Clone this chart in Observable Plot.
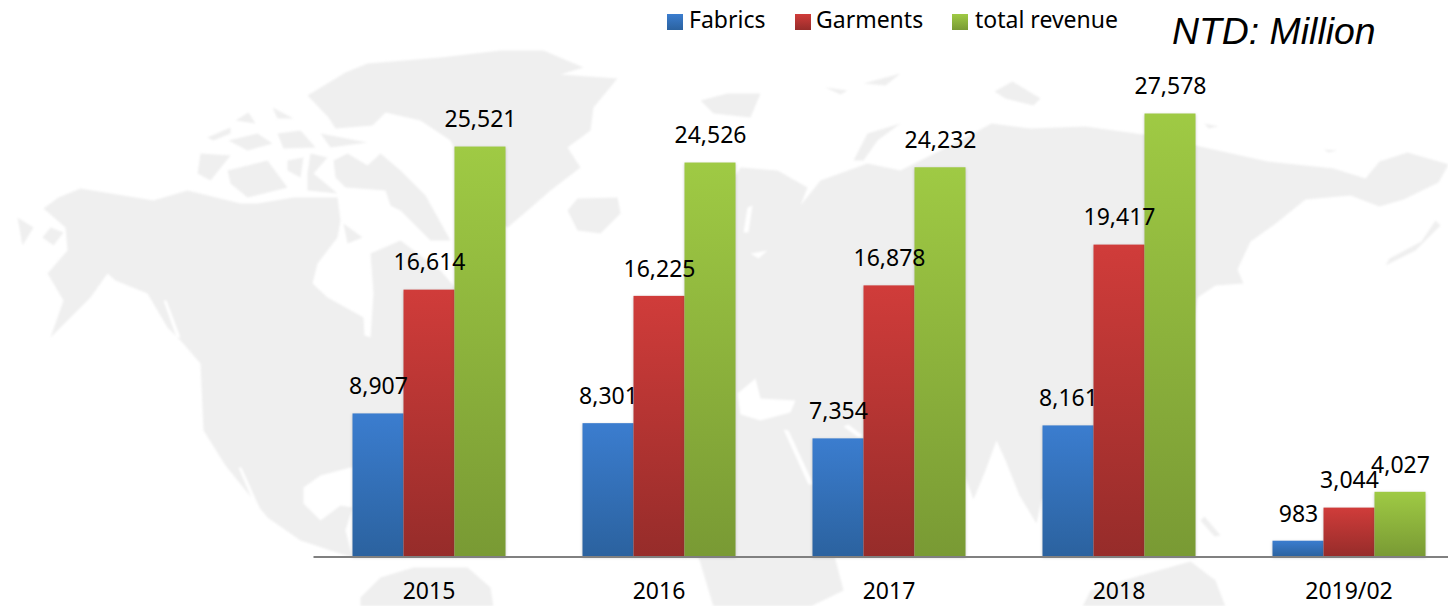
<!DOCTYPE html>
<html>
<head>
<meta charset="utf-8">
<script src="https://cdn.jsdelivr.net/npm/d3@7"></script>
<script src="https://cdn.jsdelivr.net/npm/@observablehq/plot@0.6"></script>
<style>
  html, body { margin: 0; padding: 0; background: #fff; width: 1448px; height: 606px; overflow: hidden; }
  #stage { position: relative; width: 1448px; height: 606px; overflow: hidden; }
  #map, #chart, #base { position: absolute; left: 0; top: 0; }
  #map svg { filter: blur(1.1px); display: block; }
  #chart svg, #base svg { display: block; background: transparent; overflow: hidden; }
  #chart g[aria-label="bar"] rect { filter: drop-shadow(0 1px 1.5px rgba(60,60,60,.28)); }
  .legend { position: absolute; font-family: "Noto Sans", sans-serif; font-size: 23px; color: #000; line-height: 28px; white-space: nowrap; }
  .swatch { position: absolute; width: 15.5px; height: 16px; }
  #unit { position: absolute; left: 1172px; top: 10px; font: italic 37.4px "Liberation Sans", Arial, sans-serif; color: #000; white-space: nowrap; }
</style>
</head>
<body>
<div id="stage"><div id="map"></div><div id="chart"></div><div id="base"></div></div>
<script>
// Chart values
const years = ["2015", "2016", "2017", "2018", "2019/02"];
const seriesNames = ["Fabrics", "Garments", "total revenue"];
const fabrics = [8907, 8301, 7354, 8161, 983];
const garments = [16614, 16225, 16878, 19417, 3044];
const totalRevenue = [25521, 24526, 24232, 27578, 4027];
const unitLabel = "NTD: Million";

// Faint world map behind the bars: outlines
const land = [
  [[43,208],[58,197],[80,188],[153,200],[187,190],[240,203],[257,203],[293,197],[337,197],[340,220],[337,237],[317,263],[312,283],[327,297],[363,317],[364,335],[370,337],[373,293],[370,253],[400,240],[440,270],[500,340],[460,370],[430,400],[400,445],[375,465],[350,467],[320,475],[303,487],[303,503],[320,520],[340,505],[352,507],[345,530],[352,557],[330,550],[300,540],[267,517],[225,465],[203,430],[200,363],[180,340],[167,327],[147,293],[115,280],[107,273],[90,297],[50,337],[63,300],[47,273],[67,250],[65,227]],
  [[360,606],[360,597],[380,577],[413,567],[467,567],[490,587],[493,606]],
  [[307,95],[345,72],[367,63],[440,57],[500,50],[543,50],[583,67],[560,74],[617,78],[593,107],[590,130],[567,147],[580,167],[550,190],[527,210],[507,227],[490,215],[470,180],[450,140],[420,120],[385,112],[372,125],[335,128],[328,117]],
  [[567,210],[577,198],[617,197],[620,213],[600,233],[577,230]],
  [[207,137],[230,127],[230,133],[213,140]],
  [[228,140],[257,133],[272,143],[247,150]],
  [[277,133],[300,130],[315,147],[283,148]],
  [[320,133],[367,142],[330,147]],
  [[272,107],[293,118],[277,118]],
  [[235,120],[248,112],[255,123]],
  [[200,153],[230,155],[210,180],[197,173]],
  [[227,170],[267,160],[287,187],[247,197],[230,183]],
  [[287,160],[303,157],[300,177],[287,170]],
  [[333,160],[347,153],[367,165],[380,153],[400,170],[425,195],[450,240],[430,240],[400,210],[390,205],[385,190],[345,187],[335,177]],
  [[310,153],[327,157],[313,173],[337,193],[307,190],[307,173]],
  [[17,217],[33,227],[22,245]],
  [[42,237],[50,227],[63,232],[53,245]],
  [[343,223],[362,237],[347,243]],
  [[690,300],[700,230],[740,167],[777,170],[807,187],[800,205],[820,180],[867,163],[900,170],[960,140],[991,123],[1030,128],[1085,126],[1150,135],[1204,147],[1267,161],[1333,168],[1365,178],[1379,161],[1407,152],[1448,164],[1438,182],[1403,199],[1379,206],[1350,195],[1305,199],[1274,224],[1250,241],[1237,269],[1243,283],[1215,285],[1197,297],[1190,340],[1180,400],[1130,470],[1060,480],[1041,500],[1036,523],[1019,495],[1005,460],[996,440],[985,470],[973,499],[955,450],[910,430],[880,470],[810,483],[760,420],[700,400]],
  [[640,430],[650,400],[690,385],[737,395],[783,429],[810,483],[862,470],[830,540],[843,590],[810,606],[713,606],[700,563],[680,500],[640,470]],
  [[700,100],[727,93],[760,93],[750,117],[713,113]],
  [[825,87],[847,90],[840,94]],
  [[863,83],[900,73],[885,85]],
  [[853,160],[867,133],[900,123],[877,140],[863,160]],
  [[994,91],[1012,81],[1040,98],[1033,105],[1005,98]],
  [[1204,123],[1218,126],[1208,128]],
  [[1323,149],[1337,150],[1328,152]],
  [[1435,220],[1421,241],[1389,258],[1385,265],[1415,250],[1440,225]],
  [[1204,516],[1220,535],[1214,536],[1200,520]],
  [[1082,606],[1090,590],[1140,575],[1190,561],[1215,580],[1225,606]]
];
const water = [
  [[737,393],[755,378],[760,398],[795,400],[790,412],[760,420],[740,414]],
  [[783,429],[788,430],[813,484],[808,484]],
  [[843,426],[848,424],[862,435],[858,437]],
  [[747,207],[752,205],[748,232],[743,232]],
  [[750,253],[767,250],[758,258]],
  [[238,467],[241,467],[259,507],[255,507]],
  [[163,300],[166,300],[180,337],[176,337]]
];

const toRows = (shapes) => shapes.flatMap((shape, id) => shape.map(([px, py]) => ({id, px, py})));
document.getElementById("map").append(Plot.plot({
  width: 1448, height: 606, margin: 0,
  x: {domain: [0, 1448], range: [0, 1448], axis: null},
  y: {domain: [0, 606], range: [0, 606], axis: null},
  marks: [
    Plot.line(toRows(land), {x: "px", y: "py", z: "id", fill: "#efefef", stroke: "none"}),
    Plot.line(toRows(water), {x: "px", y: "py", z: "id", fill: "#ffffff", stroke: "none"})
  ]
}));

const rows = years.flatMap((year, i) => [
  {year, series: seriesNames[0], value: fabrics[i]},
  {year, series: seriesNames[1], value: garments[i]},
  {year, series: seriesNames[2], value: totalRevenue[i]}
]);

const stops = {
  blue: ["#3b7dcf", "#2b629f"],
  red: ["#d03c3a", "#962c2a"],
  green: ["#9fca44", "#799a34"]
};
const defs = () => {
  const d = d3.create("svg:defs");
  for (const [name, [top, bottom]] of Object.entries(stops)) {
    const g = d.append("linearGradient").attr("id", "g-" + name)
      .attr("x1", 0).attr("y1", 0).attr("x2", 0).attr("y2", 1);
    g.append("stop").attr("offset", "0%").attr("stop-color", top);
    g.append("stop").attr("offset", "100%").attr("stop-color", bottom);
  }
  return d.node();
};

const frame = {width: 1448, height: 606, marginLeft: 313.5, marginTop: 74.6, marginBottom: 49.5};
const valueDomain = [0, 30000];
const fontFamily = "'Noto Sans', sans-serif";

document.getElementById("chart").append(Plot.plot({
  ...frame,
  marginRight: -15.5,
  style: {fontFamily, background: "transparent", color: "#000"},
  fx: {domain: years, paddingInner: 0.335, paddingOuter: 0.1675, label: null, axis: null},
  x: {domain: seriesNames, padding: 0, axis: null},
  y: {domain: valueDomain, axis: null},
  color: {domain: seriesNames, range: ["url(#g-blue)", "url(#g-red)", "url(#g-green)"]},
  marks: [
    Plot.barY(rows, {fx: "year", x: "series", y: "value", fill: "series", insetLeft: 0, insetRight: 0}),
    Plot.text(rows, {fx: "year", x: "series", y: "value", text: (d) => d3.format(",")(d.value), dy: -27, fontSize: 23, fill: "#000"}),
    Plot.axisFx({anchor: "bottom", tickSize: 0, tickPadding: 26, fontSize: 23, fill: "#000", label: null})
  ]
}));

// Baseline over the whole width, on the same value scale as the bars
document.getElementById("base").append(Plot.plot({
  ...frame,
  marginRight: 0,
  style: {background: "transparent"},
  x: {axis: null},
  y: {domain: valueDomain, axis: null},
  marks: [defs, Plot.ruleY([0], {stroke: "#808080", strokeWidth: 2})]
}));

// Legend and unit note above the plot
const stage = document.getElementById("stage");
const legendSpots = [
  {name: seriesNames[0], box: 667, text: 689, grad: stops.blue},
  {name: seriesNames[1], box: 795, text: 816, grad: stops.red},
  {name: seriesNames[2], box: 952, text: 975, grad: stops.green}
];
for (const s of legendSpots) {
  const box = document.createElement("div");
  box.className = "swatch";
  box.style.cssText = `left:${s.box}px;top:14px;background:linear-gradient(${s.grad[0]},${s.grad[1]})`;
  const t = document.createElement("div");
  t.className = "legend";
  t.style.cssText = `left:${s.text}px;top:5px`;
  t.textContent = s.name;
  stage.append(box, t);
}
const unit = document.createElement("div");
unit.id = "unit";
unit.textContent = unitLabel;
stage.append(unit);
</script>
</body>
</html>
